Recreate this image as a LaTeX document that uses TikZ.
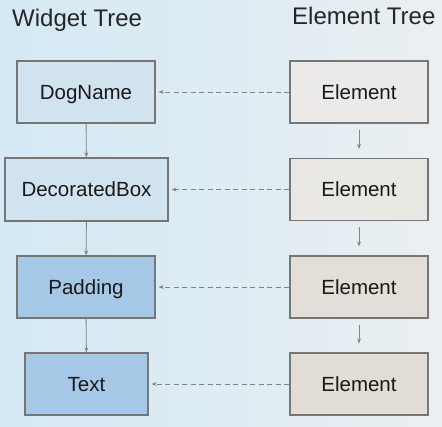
\documentclass[tikz,border=0pt]{standalone}
\usepackage{fontspec}
\setmainfont{Liberation Sans}
\usetikzlibrary{arrows.meta, positioning}

\definecolor{bgleft}{RGB}{212,233,244}
\definecolor{bgright}{RGB}{234,239,242}
\definecolor{wlight}{RGB}{210,227,240}
\definecolor{wdark}{RGB}{165,200,231}
\definecolor{elight}{RGB}{236,234,232}
\definecolor{edark}{RGB}{225,221,213}
\definecolor{edgegray}{RGB}{118,118,118}

\begin{document}
\begin{tikzpicture}[
		x=1pt, y=-1pt,
		box/.style={draw=edgegray, line width=1.2pt, rectangle, inner sep=0pt,
			minimum width=138pt, minimum height=62pt, text=black!90,
			text height=14.7pt, text depth=0pt, font=\fontsize{20.5}{24}\selectfont},
		title/.style={anchor=base west, inner sep=0pt, font=\fontsize{24}{28}\selectfont, text=black!85},
		link/.style={draw=edgegray!90, line width=0.9pt, -{Stealth[length=5pt,width=4pt]}},
		ref/.style={link, dash pattern=on 5pt off 3.5pt, shorten >=3pt},
	]

	% -- background --
	\useasboundingbox (0,0) rectangle (442,427);
	\shade[left color=bgleft, right color=bgright] (0,0) rectangle (442,427);

	% -- titles --
	\node [title] (wtitle) at (12,27) {Widget Tree};
	\node [title] (etitle) at (292,25) {Element Tree};

	% -- widget tree --
	\node [box,fill=wlight] (dog) at (86,92) {DogName};
	\node [box,fill=wlight,minimum width=163pt,minimum height=63pt] (deco) at (86.5,189.5) {DecoratedBox};
	\node [box,fill=wdark] (pad) at (86,287) {Padding};
	\node [box,fill=wdark,minimum width=123pt] (txt) at (86.5,384) {Text};

	% -- element tree --
	\node [box,fill=elight] (e1) at (359,92) {Element};
	\node [box,fill=elight!85!edark] (e2) at (359,189.5) {Element};
	\node [box,fill=edark!85!elight] (e3) at (359,287) {Element};
	\node [box,fill=edark] (e4) at (359,384) {Element};

	% -- parent/child edges --
	\draw[link] (dog) -- (deco);
	\draw[link] (deco) -- (pad);
	\draw[link] (pad) -- (txt);

	\draw[link, shorten <=6pt, shorten >=9pt] (e1) -- (e2);
	\draw[link, shorten <=6pt, shorten >=9pt] (e2) -- (e3);
	\draw[link, shorten <=6pt, shorten >=9pt] (e3) -- (e4);

	% -- element -> widget references --
	\draw[ref] (e1.west) -- (dog.east);
	\draw[ref] (e2.west) -- (deco.east);
	\draw[ref] (e3.west) -- (pad.east);
	\draw[ref] (e4.west) -- (txt.east);
\end{tikzpicture}
\end{document}
